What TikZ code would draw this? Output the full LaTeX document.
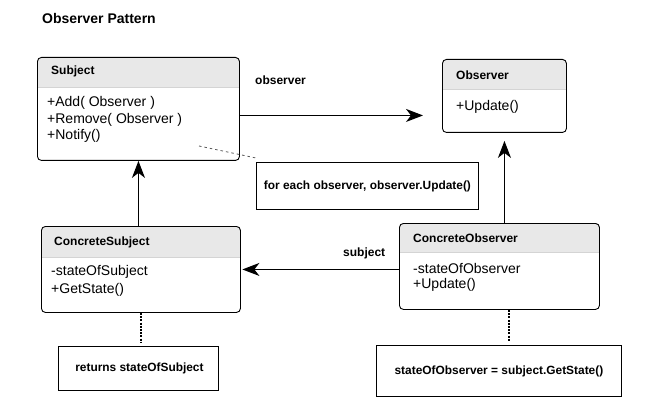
\documentclass[tikz,border=0pt]{standalone}
\usepackage{fontspec}
\setmainfont{Liberation Sans}
\usetikzlibrary{arrows.meta,backgrounds,calc}
\definecolor{hdrgray}{HTML}{E8E8E8}
\definecolor{divgray}{HTML}{D4D4D4}
\begin{document}
\begin{tikzpicture}[x=1pt,y=-1pt,
  umlbox/.style={draw=black, line width=0.9pt, rounded corners=4pt, anchor=north west, inner sep=0pt},
  notebox/.style={draw=black, line width=0.9pt, anchor=north west, inner sep=0pt},
  hdrtext/.style={anchor=west, inner sep=0pt, font=\fontsize{12}{14}\selectfont\bfseries},
  bodytext/.style={anchor=west, inner sep=0pt, font=\fontsize{14}{17}\selectfont},
  notetext/.style={inner sep=0pt, font=\fontsize{11.9}{14}\selectfont\bfseries},
  lbltext/.style={anchor=west, inner sep=0pt, font=\fontsize{12}{14}\selectfont\bfseries},
  assoc/.style={line width=1.2pt, -{Stealth[length=17pt,width=13pt,inset=5pt]}},
  noteline/.style={line width=0.8pt, gray!70!black, dash pattern=on 2.5pt off 3pt},
  tiedot/.style={line width=2pt, dash pattern=on 2pt off 1.2pt},
]
\useasboundingbox (0,0) rectangle (658,414);

% title
\node[anchor=west, inner sep=0pt, font=\fontsize{14}{16}\selectfont\bfseries] (title) at (42,18) {Observer Pattern};

% class boxes
\node[umlbox, minimum width=202pt, minimum height=103pt] (subj) at (37,57) {};
\node[umlbox, minimum width=124pt, minimum height=73pt] (obs) at (442,59) {};
\node[umlbox, minimum width=199pt, minimum height=86pt] (csub) at (41,226) {};
\node[umlbox, minimum width=200pt, minimum height=86pt] (cobs) at (399,223) {};

% headers
\begin{scope}[on background layer]
  \foreach \b/\h in {subj/30, obs/30, csub/31, cobs/29} {
    \begin{scope}
      \clip[rounded corners=4pt] (\b.north west) rectangle (\b.south east);
      \fill[hdrgray] (\b.north west) rectangle ($(\b.north east)+(0,\h)$);
    \end{scope}
    \draw[divgray, line width=0.8pt] ($(\b.north west)+(0,\h)$) -- ($(\b.north east)+(0,\h)$);
  }
\end{scope}

% header texts
\node[hdrtext] (subjT) at (51,71) {Subject};
\node[hdrtext] (obsT) at (456,75) {Observer};
\node[hdrtext] (csubT) at (54,242) {ConcreteSubject};
\node[hdrtext] (cobsT) at (413,238) {ConcreteObserver};

% body texts
\node[bodytext] (s1) at (47,103) {+Add( Observer )};
\node[bodytext] (s2) at (47,119.5) {+Remove( Observer )};
\node[bodytext] (s3) at (47,136) {+Notify()};
\node[bodytext] (o1) at (456,107) {+Update()};
\node[bodytext] (cs1) at (51,272) {-stateOfSubject};
\node[bodytext] (cs2) at (51,289.5) {+GetState()};
\node[bodytext] (co1) at (413,268) {-stateOfObserver};
\node[bodytext] (co2) at (413,285) {+Update()};

% notes
\node[notebox, minimum width=222pt, minimum height=47pt] (n2) at (256,162) {};
\node[notetext] (n2T) at (n2.center) {for each observer, observer.Update()};
\node[notebox, minimum width=160pt, minimum height=44pt] (n1) at (58,346) {};
\node[notetext] (n1T) at ($(n1.center)+(1,0)$) {returns stateOfSubject};
\node[notebox, minimum width=245pt, minimum height=51pt] (n3) at (376,345) {};
\node[notetext] (n3T) at (n3.center) {stateOfObserver = subject.GetState()};

% association labels
\node[lbltext] (lobs) at (255,80) {observer};
\node[lbltext] (lsub) at (343,253) {subject};

% connectors
\draw[assoc, shorten >=19pt] ([yshift=-6.5pt]subj.east) -- ([yshift=-6.5pt]subj.east -| obs.west);
\draw[assoc, shorten >=8pt] (cobs.north -| obs.south) -- (obs.south);
\draw[assoc] (csub.north -| subj.south) -- (subj.south);
\draw[assoc, shorten >=1.5pt] (cobs.west |- csub.east) -- (csub.east);

% note attachments
\coordinate (d1) at (199,146);
\draw[noteline] (d1) -- ([yshift=4pt]n2.north west);
\draw[tiedot, shorten >=3pt] (csub.south) -- (csub.south |- n1.north);
\coordinate (d3) at ([xshift=10pt]cobs.south);
\draw[tiedot, shorten >=4pt] (d3) -- (d3 |- n3.north);
\end{tikzpicture}
\end{document}
